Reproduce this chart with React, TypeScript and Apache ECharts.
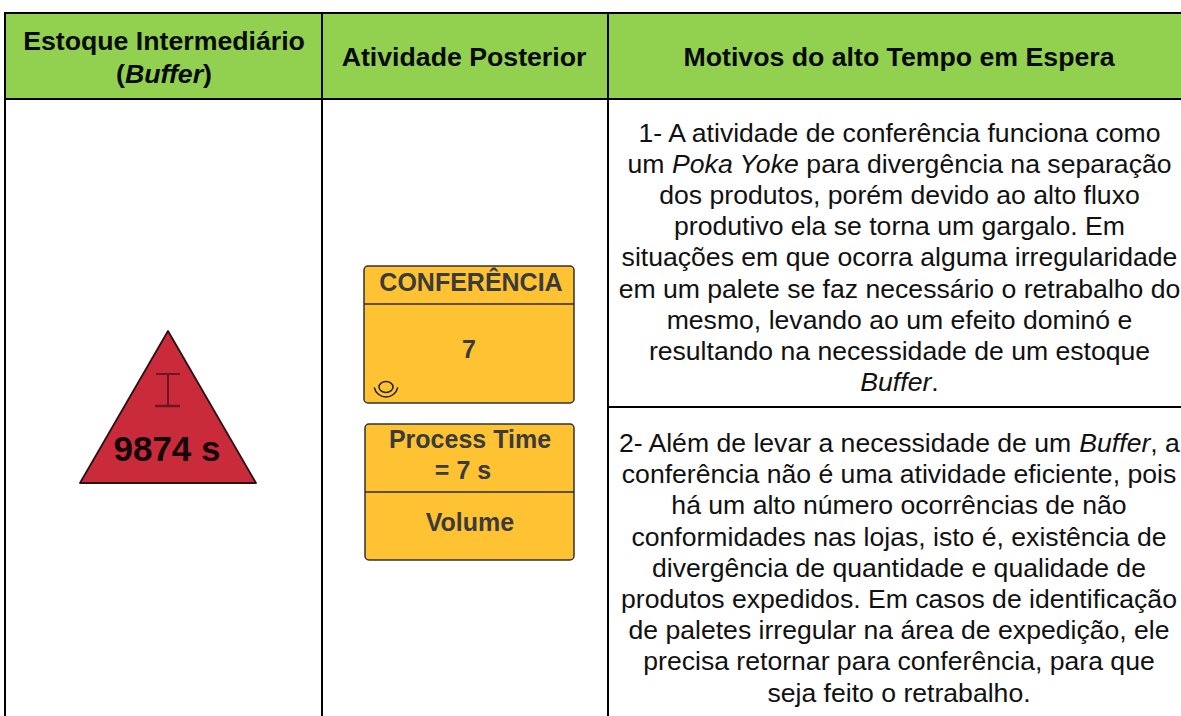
import React, { useEffect, useRef } from "react";
import * as echarts from "echarts";

const headerCol1 = ["Estoque Intermediário", "({bi|Buffer})"];
const headerCol2 = "Atividade Posterior";
const headerCol3 = "Motivos do alto Tempo em Espera";
const reason1 = [
  "1- A atividade de conferência funciona como",
  "um {i|Poka Yoke} para divergência na separação",
  "dos produtos, porém devido ao alto fluxo",
  "produtivo ela se torna um gargalo. Em",
  "situações em que ocorra alguma irregularidade",
  "em um palete se faz necessário o retrabalho do",
  "mesmo, levando ao um efeito dominó e",
  "resultando na necessidade de um estoque",
  "{i|Buffer}.",
];
const reason2 = [
  "2- Além de levar a necessidade de um {i|Buffer}, a",
  "conferência não é uma atividade eficiente, pois",
  "há um alto número ocorrências de não",
  "conformidades nas lojas, isto é, existência de",
  "divergência de quantidade e qualidade de",
  "produtos expedidos. Em casos de identificação",
  "de paletes irregular na área de expedição, ele",
  "precisa retornar para conferência, para que",
  "seja feito o retrabalho.",
];
const inventoryLabel = "9874 s";
const processName = "CONFERÊNCIA";
const operators = "7";
const dataBoxLines = ["Process Time", "= 7 s"];
const dataBoxFooter = "Volume";

const FONT = '"Liberation Sans", Arial, sans-serif';
const BLACK = "#000000";

function line(x1: number, y1: number, x2: number, y2: number, lineWidth = 2, stroke = BLACK) {
  return { type: "line", shape: { x1, y1, x2, y2 }, style: { stroke, lineWidth }, silent: true };
}

function label(
  text: string,
  x: number,
  y: number,
  fontSize: number,
  fontWeight: string,
  fill: string,
  rich?: Record<string, unknown>,
) {
  return {
    type: "text",
    x,
    y,
    silent: true,
    style: {
      text,
      fontSize,
      fontWeight,
      fill,
      fontFamily: FONT,
      align: "center",
      verticalAlign: "middle",
      rich,
    },
  };
}

export default function App() {
  const ref = useRef<HTMLDivElement>(null);

  useEffect(() => {
    document.body.style.margin = "0";
    const chart = echarts.init(ref.current!, undefined, { renderer: "svg" });
    const bodyFont = 26.6;
    const plainRich = (t: string) =>
      t
        .split(/(\{i\|[^}]*\})/)
        .filter(Boolean)
        .map((p) => (p.startsWith("{i|") ? p : `{n|${p}}`))
        .join("");
    const richBody = {
      i: { fontStyle: "italic", fontSize: bodyFont, fontFamily: FONT, fill: "#111" },
      n: { fontSize: bodyFont, fontFamily: FONT, fill: "#111" },
    };
    const headerSize = 26.7;
    const headerRich = {
      n: { fontSize: headerSize, fontWeight: "bold", fontFamily: FONT, fill: "#0a0a0a" },
      bi: { fontSize: headerSize, fontWeight: "bold", fontStyle: "italic", fontFamily: FONT, fill: "#0a0a0a" },
    };
    const yTop = reason1.map((_, i) => 133 + i * 31.1);
    const yBottom = reason2.map((_, i) => 443 + i * 31.2);

    chart.setOption({
      animation: false,
      backgroundColor: "#ffffff",
      graphic: {
        elements: [
          { type: "rect", shape: { x: 5, y: 13, width: 1176, height: 86 }, style: { fill: "#92D050" }, silent: true },
          line(5, 13, 1181, 13),
          line(5, 99, 1181, 99),
          line(5, 12, 5, 716),
          line(322, 13, 322, 716),
          line(608, 13, 608, 716),
          line(608, 407, 1181, 407),

          label(headerCol1[0], 164, 41, headerSize, "bold", "#0a0a0a"),
          label("{n|(}{bi|Buffer}{n|)}", 164, 74, headerSize, "bold", "#0a0a0a", headerRich),
          label(headerCol2, 464, 57, headerSize, "bold", "#0a0a0a"),
          label(headerCol3, 899, 57, headerSize, "bold", "#0a0a0a"),

          // Inventory triangle
          {
            type: "polygon",
            shape: { points: [[168, 331], [256, 483], [80, 483]] },
            style: { fill: "#C92B3B", stroke: "#2a1114", lineWidth: 1.8, lineJoin: "round" },
            silent: true,
          },
          line(156, 374, 180, 374, 2, "#6f1622"),
          line(168, 374, 168, 406, 2, "#6f1622"),
          line(155, 406, 180, 406, 2.5, "#6f1622"),
          label(inventoryLabel, 167, 448, 35, "bold", "#14070a"),

          // Process box
          {
            type: "rect",
            shape: { x: 364, y: 266, width: 210, height: 137, r: 4 },
            style: { fill: "#FFC233", stroke: "#333333", lineWidth: 1.5 },
            silent: true,
          },
          line(364, 304, 574, 304, 1.5, "#2b2b2b"),
          label(processName, 471, 282, 25, "bold", "#3b3b3b"),
          label(operators, 469, 349, 25, "bold", "#3b3b3b"),
          {
            type: "ellipse",
            shape: { cx: 386, cy: 387, rx: 7, ry: 5.5 },
            style: { fill: "none", stroke: "#222", lineWidth: 1.5 },
            silent: true,
          },
          {
            type: "arc",
            shape: { cx: 386, cy: 385, r: 12, startAngle: 0.2, endAngle: Math.PI - 0.2 },
            style: { fill: "none", stroke: "#222", lineWidth: 1.5 },
            silent: true,
          },

          // Data box
          {
            type: "rect",
            shape: { x: 365, y: 424, width: 209, height: 136, r: 4 },
            style: { fill: "#FFC233", stroke: "#333333", lineWidth: 1.5 },
            silent: true,
          },
          line(365, 492, 574, 492, 1.5, "#2b2b2b"),
          label(dataBoxLines[0], 470, 439, 25, "bold", "#3b3b3b"),
          label(dataBoxLines[1], 463, 470, 25, "bold", "#3b3b3b"),
          label(dataBoxFooter, 470, 522, 25, "bold", "#3b3b3b"),

          ...reason1.map((t, i) => label(plainRich(t), 899.5, yTop[i], bodyFont, "normal", "#111", richBody)),
          ...reason2.map((t, i) => label(plainRich(t), 899, yBottom[i], bodyFont, "normal", "#111", richBody)),
        ],
      },
    });
    return () => chart.dispose();
  }, []);

  return <div ref={ref} style={{ width: 1181, height: 716 }} />;
}
